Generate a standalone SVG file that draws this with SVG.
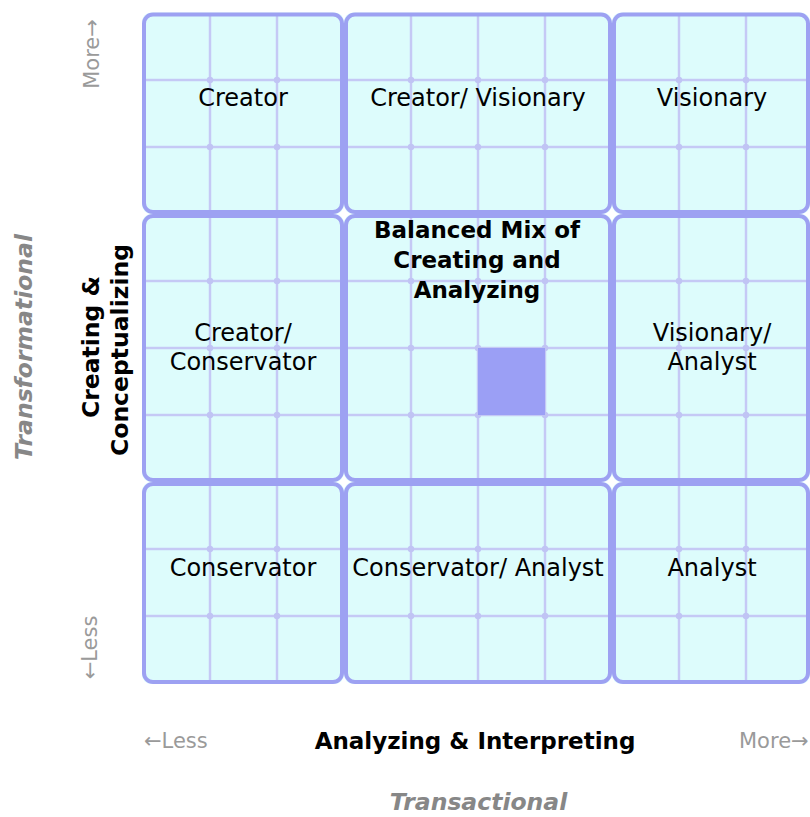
<svg xmlns="http://www.w3.org/2000/svg" width="810" height="817" viewBox="0 0 810 817">
<style>
.box{fill:#ddfcfc;stroke:none}
.frame{fill:none;stroke:#9da1f2;stroke-width:4}
.gl{stroke:#c5c9f5;stroke-width:2.5}
.dot{fill:#c0c4f4}
.lbl{font-family:"DejaVu Sans","Verdana",sans-serif;font-size:24px;fill:#000;text-anchor:middle}
.bold{font-family:"DejaVu Sans","Verdana",sans-serif;font-weight:bold;fill:#000;text-anchor:middle}
.axis{font-family:"DejaVu Sans","Verdana",sans-serif;font-size:21px;fill:#9a9a9a}
.ital{font-family:"DejaVu Sans","Verdana",sans-serif;font-weight:bold;font-style:italic;font-size:23.5px;fill:#878787;text-anchor:middle}
</style>
<rect width="810" height="817" fill="#ffffff"/>
<g id="fills">
<rect class="box" x="142" y="12.5" width="202" height="201.5" rx="9"/>
<rect class="box" x="344" y="12.5" width="268" height="201.5" rx="9"/>
<rect class="box" x="612" y="12.5" width="198" height="201.5" rx="9"/>
<rect class="box" x="142" y="214" width="202" height="268" rx="9"/>
<rect class="box" x="344" y="214" width="268" height="268" rx="9"/>
<rect class="box" x="612" y="214" width="198" height="268" rx="9"/>
<rect class="box" x="142" y="482" width="202" height="202" rx="9"/>
<rect class="box" x="344" y="482" width="268" height="202" rx="9"/>
<rect class="box" x="612" y="482" width="198" height="202" rx="9"/>
</g>
<g id="grid-lines">
<line class="gl" x1="210" y1="13" x2="210" y2="684"/>
<line class="gl" x1="277" y1="13" x2="277" y2="684"/>
<line class="gl" x1="411" y1="13" x2="411" y2="684"/>
<line class="gl" x1="478" y1="13" x2="478" y2="684"/>
<line class="gl" x1="545" y1="13" x2="545" y2="684"/>
<line class="gl" x1="679" y1="13" x2="679" y2="684"/>
<line class="gl" x1="746" y1="13" x2="746" y2="684"/>
<line class="gl" x1="142" y1="80" x2="810" y2="80"/>
<line class="gl" x1="142" y1="147" x2="810" y2="147"/>
<line class="gl" x1="142" y1="281" x2="810" y2="281"/>
<line class="gl" x1="142" y1="348" x2="810" y2="348"/>
<line class="gl" x1="142" y1="415" x2="810" y2="415"/>
<line class="gl" x1="142" y1="549" x2="810" y2="549"/>
<line class="gl" x1="142" y1="616" x2="810" y2="616"/>
</g>
<g id="grid-dots">
<circle class="dot" cx="210" cy="80" r="3.2"/><circle class="dot" cx="277" cy="80" r="3.2"/><circle class="dot" cx="411" cy="80" r="3.2"/><circle class="dot" cx="478" cy="80" r="3.2"/><circle class="dot" cx="545" cy="80" r="3.2"/><circle class="dot" cx="679" cy="80" r="3.2"/><circle class="dot" cx="746" cy="80" r="3.2"/>
<circle class="dot" cx="210" cy="147" r="3.2"/><circle class="dot" cx="277" cy="147" r="3.2"/><circle class="dot" cx="411" cy="147" r="3.2"/><circle class="dot" cx="478" cy="147" r="3.2"/><circle class="dot" cx="545" cy="147" r="3.2"/><circle class="dot" cx="679" cy="147" r="3.2"/><circle class="dot" cx="746" cy="147" r="3.2"/>
<circle class="dot" cx="210" cy="281" r="3.2"/><circle class="dot" cx="277" cy="281" r="3.2"/><circle class="dot" cx="411" cy="281" r="3.2"/><circle class="dot" cx="478" cy="281" r="3.2"/><circle class="dot" cx="545" cy="281" r="3.2"/><circle class="dot" cx="679" cy="281" r="3.2"/><circle class="dot" cx="746" cy="281" r="3.2"/>
<circle class="dot" cx="210" cy="348" r="3.2"/><circle class="dot" cx="277" cy="348" r="3.2"/><circle class="dot" cx="411" cy="348" r="3.2"/><circle class="dot" cx="478" cy="348" r="3.2"/><circle class="dot" cx="545" cy="348" r="3.2"/><circle class="dot" cx="679" cy="348" r="3.2"/><circle class="dot" cx="746" cy="348" r="3.2"/>
<circle class="dot" cx="210" cy="415" r="3.2"/><circle class="dot" cx="277" cy="415" r="3.2"/><circle class="dot" cx="411" cy="415" r="3.2"/><circle class="dot" cx="478" cy="415" r="3.2"/><circle class="dot" cx="545" cy="415" r="3.2"/><circle class="dot" cx="679" cy="415" r="3.2"/><circle class="dot" cx="746" cy="415" r="3.2"/>
<circle class="dot" cx="210" cy="549" r="3.2"/><circle class="dot" cx="277" cy="549" r="3.2"/><circle class="dot" cx="411" cy="549" r="3.2"/><circle class="dot" cx="478" cy="549" r="3.2"/><circle class="dot" cx="545" cy="549" r="3.2"/><circle class="dot" cx="679" cy="549" r="3.2"/><circle class="dot" cx="746" cy="549" r="3.2"/>
<circle class="dot" cx="210" cy="616" r="3.2"/><circle class="dot" cx="277" cy="616" r="3.2"/><circle class="dot" cx="411" cy="616" r="3.2"/><circle class="dot" cx="478" cy="616" r="3.2"/><circle class="dot" cx="545" cy="616" r="3.2"/><circle class="dot" cx="679" cy="616" r="3.2"/><circle class="dot" cx="746" cy="616" r="3.2"/>
</g>
<rect id="marker-square" x="478" y="348" width="67" height="67" fill="#9b9ff5"/>
<g id="connectors"/>
<g id="creator">
<rect class="frame" x="144" y="14.5" width="198" height="197.5" rx="9"/>
<text class="lbl" x="243" y="106">Creator</text>
</g>
<g id="creator-visionary">
<rect class="frame" x="346" y="14.5" width="264" height="197.5" rx="9"/>
<text class="lbl" x="478" y="106">Creator/ Visionary</text>
</g>
<g id="visionary">
<rect class="frame" x="614" y="14.5" width="194" height="197.5" rx="9"/>
<text class="lbl" x="712" y="106">Visionary</text>
</g>
<g id="creator-conservator">
<rect class="frame" x="144" y="216" width="198" height="264" rx="9"/>
<text class="lbl" x="243" y="341">Creator/</text>
<text class="lbl" x="243" y="369.5">Conservator</text>
</g>
<g id="balanced-mix">
<rect class="frame" x="346" y="216" width="264" height="264" rx="9"/>
<text class="bold" font-size="23" x="477" y="238">Balanced Mix of</text>
<text class="bold" font-size="23" x="477" y="268">Creating and</text>
<text class="bold" font-size="23" x="477" y="298">Analyzing</text>
</g>
<g id="visionary-analyst">
<rect class="frame" x="614" y="216" width="194" height="264" rx="9"/>
<text class="lbl" x="712" y="341">Visionary/</text>
<text class="lbl" x="712" y="369.5">Analyst</text>
</g>
<g id="conservator">
<rect class="frame" x="144" y="484" width="198" height="198" rx="9"/>
<text class="lbl" x="243" y="576">Conservator</text>
</g>
<g id="conservator-analyst">
<rect class="frame" x="346" y="484" width="264" height="198" rx="9"/>
<text class="lbl" x="478" y="576">Conservator/ Analyst</text>
</g>
<g id="analyst">
<rect class="frame" x="614" y="484" width="194" height="198" rx="9"/>
<text class="lbl" x="712" y="576">Analyst</text>
</g>
<g id="y-axis">
<text class="axis" text-anchor="middle" transform="translate(99,54) rotate(-90)">More→</text>
<text class="axis" text-anchor="middle" transform="translate(97,647.5) rotate(-90)">←Less</text>
<text class="bold" font-size="23.5" transform="translate(99,347) rotate(-90)">Creating &amp;</text>
<text class="bold" font-size="23.5" transform="translate(128,350) rotate(-90)">Conceptualizing</text>
<text class="ital" transform="translate(31.5,347) rotate(-90)">Transformational</text>
</g>
<g id="x-axis">
<text class="axis" x="144" y="748">←Less</text>
<text class="bold" font-size="23" x="475" y="749">Analyzing &amp; Interpreting</text>
<text class="axis" x="739" y="748">More→</text>
<text class="ital" x="478.5" y="810">Transactional</text>
</g>
</svg>
